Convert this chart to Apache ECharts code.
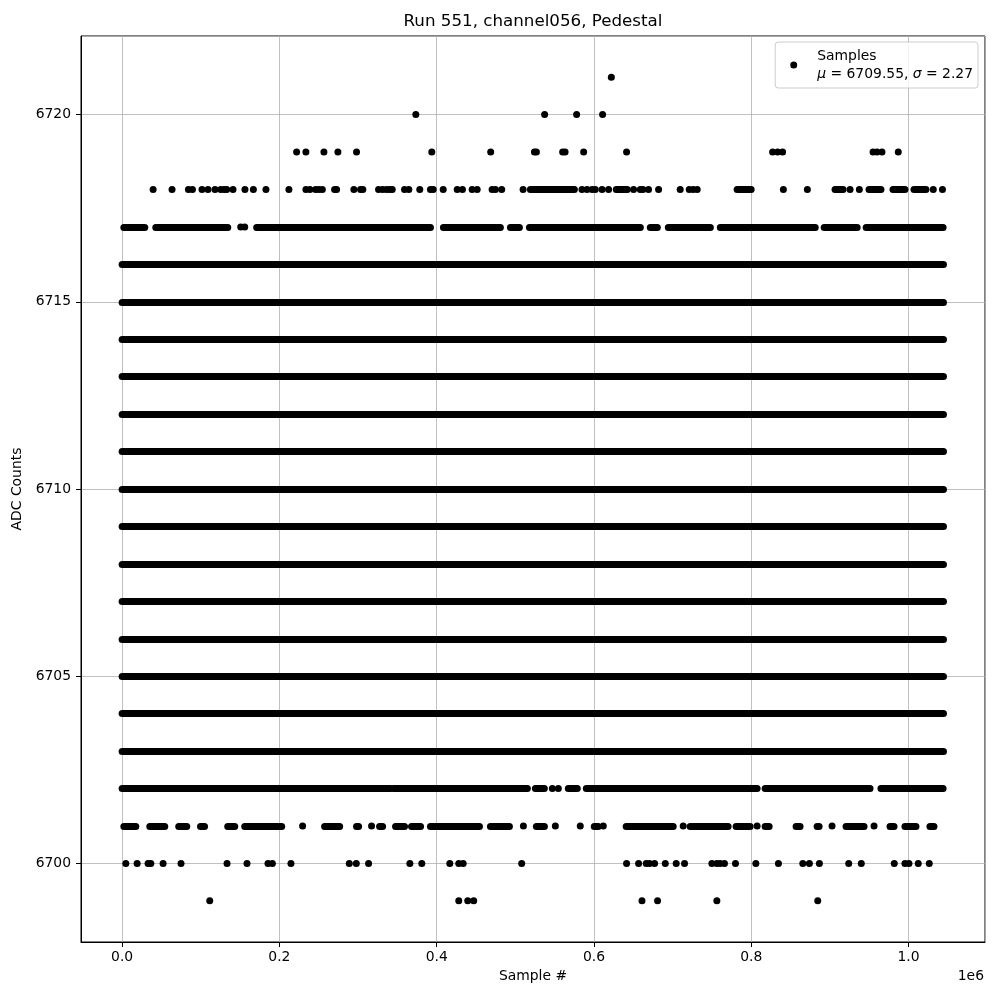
<!DOCTYPE html>
<html>
<head>
<meta charset="utf-8">
<title>Run 551, channel056, Pedestal</title>
<script src="https://cdn.jsdelivr.net/npm/echarts@6/dist/echarts.min.js"></script>
<style>
  html, body { margin: 0; padding: 0; background: #fff; }
  #chart { width: 1000px; height: 1000px; }
</style>
</head>
<body>
<div id="chart"></div>
<script>
// rows 6703..6716 are so dense they read as solid bars over the whole run
const denseRows = [6703, 6704, 6705, 6706, 6707, 6708, 6709, 6710, 6711, 6712, 6713, 6714, 6715, 6716]
const denseSpan = [0, 1044500]

// sparse rows: single samples (x = sample #)
const dots6721 = [622100]
const dots6720 = [373500, 537300, 578000, 611000]
const dots6719 = [221900, 233700, 256600, 274400, 298100, 393800, 468700, 524300, 526800, 560200, 563300, 586900, 641500, 827200, 833600, 839900, 954900, 960000, 966300, 987000]
const dots6718 = [39400, 63500, 84300, 89400, 101600, 109200, 118100, 125400, 129600, 133000, 141000, 156200, 166900, 182900, 212100, 233700, 238800, 246100, 250200, 254600, 270200, 272700, 294700, 303200, 306100, 326100, 331200, 336200, 340100, 343500, 359100, 364600, 378500, 392100, 395600, 408300, 426100, 432800, 445100, 451500, 470500, 474700, 482700, 509900, 584800, 591200, 597600, 601700, 610300, 618600, 650400, 658900, 662300, 669400, 682200, 709700, 721200, 726200, 731300, 840900, 871400, 925700, 937500, 1031500, 1043200]
const dots6717 = [150800, 155900]
const dots6702 = [547100, 554700]
const dots6701 = [229500, 317200, 510300, 550900, 582600, 611900, 713500, 807500, 902800, 956200]
const dots6700 = [4700, 19100, 33000, 36500, 52100, 74900, 133400, 158800, 185500, 191100, 214700, 288900, 297800, 313400, 365900, 381100, 416700, 428100, 433700, 508100, 641500, 656800, 666500, 670700, 677100, 690700, 704600, 715200, 750000, 756300, 760500, 766000, 780000, 805900, 834600, 865600, 874000, 886700, 924000, 940000, 981900, 995500, 1000600, 1012400, 1026400]
const dots6699 = [111400, 428100, 439500, 447100, 661100, 680900, 756300, 884600]

// sparse rows: runs of samples close enough to merge into a bar [from, to]
const seg6718 = [[519200, 575100], [628400, 642400], [782100, 799900], [906600, 916800], [949800, 965000], [980300, 995500], [1007000, 1022200]]
const seg6717 = [[2200, 28800], [42800, 134300], [171100, 392100], [408600, 481000], [493800, 505200], [518000, 659000], [671700, 680600], [694600, 748000], [760700, 881400], [892800, 934700], [946200, 1044000]]
const seg6702 = [[0, 341300], [345100, 515300], [525500, 536900], [567400, 578800], [590300, 807500], [817700, 951100], [965000, 1044000]]
const seg6701 = [[2200, 17400], [35200, 54200], [72000, 82200], [99700, 104800], [134300, 143200], [155900, 202900], [257500, 276600], [298100, 300700], [327400, 331200], [347700, 359100], [368000, 379500], [392100, 454400], [468400, 492500], [526800, 537000], [600400, 605500], [641000, 700800], [722400, 770600], [780800, 798600], [817700, 822800], [857100, 862100], [883800, 886300], [920600, 943500], [976500, 981600], [995500, 1009500], [1027300, 1032400]]

const FONT = 'DejaVu Sans'
const DOT = 7

// build the series data
const toDots = (row, xs) => xs.map((x) => [x, row])
const toSegs = (row, spans) => spans.map((s) => ({ coords: [[s[0], row], [s[1], row]] }))

const dotData = [].concat(
  toDots(6721, dots6721), toDots(6720, dots6720), toDots(6719, dots6719),
  toDots(6718, dots6718), toDots(6717, dots6717), toDots(6702, dots6702),
  toDots(6701, dots6701), toDots(6700, dots6700), toDots(6699, dots6699)
)
const segData = [].concat(
  denseRows.map((r) => ({ coords: [[denseSpan[0], r], [denseSpan[1], r]] })),
  toSegs(6718, seg6718), toSegs(6717, seg6717), toSegs(6702, seg6702), toSegs(6701, seg6701)
)

const chart = echarts.init(document.getElementById('chart'))

const axisCommon = {
  type: 'value',
  // keep the axis lines on the frame, not at zero
  axisLine: { show: true, onZero: false, lineStyle: { color: '#000', width: 1 } },
  axisTick: { show: true, length: 5, lineStyle: { color: '#000', width: 1 } },
  splitLine: { show: true, lineStyle: { color: '#b0b0b0', width: 0.8 } },
  nameLocation: 'middle',
  nameTextStyle: { fontFamily: FONT, fontSize: 13.9, color: '#000' }
}

const options = {
  animation: false,
  backgroundColor: '#fff',
  textStyle: { fontFamily: FONT },
  grid: { left: 81, right: 15, top: 36, bottom: 58, show: true, borderColor: '#000', borderWidth: 1 },
  legend: {
    data: ['Samples'],
    right: 22,
    top: 42,
    icon: 'circle',
    itemWidth: 7,
    itemHeight: 7,
    padding: [5, 5, 5, 15],
    backgroundColor: 'rgba(255,255,255,0.8)',
    borderColor: '#cccccc',
    borderWidth: 1,
    borderRadius: 3,
    formatter: () => 'Samples\n{m|μ} = 6709.55, {m|σ} = 2.27',
    textStyle: {
      fontFamily: FONT,
      fontSize: 13.9,
      lineHeight: 18,
      color: '#000',
      padding: [0, 0, 0, 15],
      rich: { m: { fontFamily: FONT, fontSize: 13.9, fontStyle: 'italic', color: '#000' } }
    }
  },
  xAxis: Object.assign({}, axisCommon, {
    min: -52300,
    max: 1097300,
    name: 'Sample #',
    nameGap: 27,
    axisLabel: {
      color: '#000', fontFamily: FONT, fontSize: 13.9, margin: 8,
      showMinLabel: false, showMaxLabel: false,
      formatter: (v) => (v / 1e6).toFixed(1)
    }
  }),
  yAxis: Object.assign({}, axisCommon, {
    min: 6697.9,
    max: 6722.1,
    name: 'ADC Counts',
    nameGap: 51,
    axisLabel: {
      color: '#000', fontFamily: FONT, fontSize: 13.9, margin: 10,
      showMinLabel: false, showMaxLabel: false,
      formatter: (v) => String(v)
    }
  }),
  graphic: [
    {
      type: 'text', x: 533, y: 22,
      style: { text: 'Run 551, channel056, Pedestal', font: '16.7px "DejaVu Sans"', fill: '#000', align: 'center', verticalAlign: 'middle' }
    },
    {
      type: 'text', x: 984, y: 976,
      style: { text: '1e6', font: '13.9px "DejaVu Sans"', fill: '#000', align: 'right', verticalAlign: 'middle' }
    }
  ],
  series: [
    {
      // merged runs of samples
      type: 'lines',
      name: 'runs',
      coordinateSystem: 'cartesian2d',
      silent: true,
      lineStyle: { color: '#000', width: DOT, cap: 'round', opacity: 1 },
      data: segData
    },
    {
      type: 'scatter',
      name: 'Samples',
      symbol: 'circle',
      symbolSize: DOT,
      itemStyle: { color: '#000', opacity: 1 },
      silent: true,
      data: dotData
    }
  ]
}

chart.setOption(options)
</script>
</body>
</html>
